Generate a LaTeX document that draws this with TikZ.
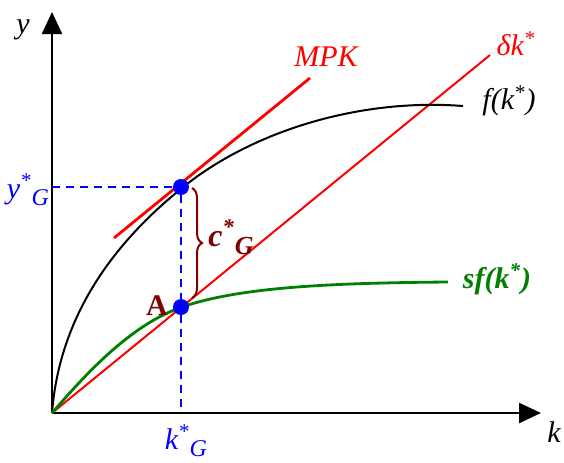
\documentclass[tikz,border=0pt]{standalone}
\usepackage{fontspec}
\setmainfont{Liberation Serif}
\usetikzlibrary{arrows.meta,decorations.pathreplacing}
\definecolor{darkred}{RGB}{128,0,0}
\definecolor{grn}{RGB}{0,128,0}
\newcommand{\stsub}[3][11]{#2\textsuperscript{*}\raisebox{-0.55ex}{\fontsize{#1}{13}\selectfont #3}}

\begin{document}
\begin{tikzpicture}[x=0.5pt,y=-0.5pt,
lbl/.style={font=\fontsize{13}{15}\selectfont\itshape,inner sep=0pt},
big/.style={font=\fontsize{15}{17}\selectfont\itshape},
dot/.style={circle,fill=blue,inner sep=0pt,minimum size=8pt},
axis/.style={line width=1.2pt,-{Triangle[length=11pt,width=10pt]}},
guide/.style={blue,line width=1pt,dash pattern=on 4pt off 3pt}]
\useasboundingbox (0,0) rectangle (564,462);
% axes
\coordinate (O) at (52,413);
\coordinate (ytop) at (52,12);
\coordinate (xend) at (541,413);
\draw[axis] (O) -- (ytop);
\draw[axis] (O) -- (xend);
\node[lbl,big] (ylab) at (23,30) {y};
\node[lbl,big] (klab) at (554,432) {k};
% depreciation line
\coordinate (dend) at (490,55);
\draw[red,line width=1pt] (O) -- (dend);
% production function
\coordinate (fend) at (463,106);
\draw[line width=1pt] (O) .. controls (60,310) and (120,238) .. (182,188)
  .. controls (252,131) and (360,98) .. (fend);
% saving curve
\coordinate (sfend) at (448,282);
\draw[grn,line width=1.4pt] (O) .. controls (85,375) and (130,325) .. (182,307)
  .. controls (240,287) and (330,283) .. (sfend);
% golden rule tangent
\coordinate (tan1) at (114,238);
\coordinate (tan2) at (310,78);
\draw[red,line width=1.4pt] (tan1) -- (tan2);
% points and guides
\node[dot] (B) at (181,187) {};
\node[dot] (A) at (181,307) {};
\coordinate (yG) at (52,187);
\coordinate (kG) at (181,413);
\draw[guide] (yG) -- (B.west);
\draw[guide] (B.south) -- (A.north);
\draw[guide] (A.south) -- (kG);
\draw[darkred,line width=1pt,decorate,decoration={brace,amplitude=5pt}] (192,188) -- (192,298);
% labels
\node[lbl,big,red] (mpk) at (326,57) {MPK};
\node[lbl,big,red] (dlab) at (516,44) {δk\textsuperscript{*}};
\node[lbl,big] (flab) at (509,101) {f(k\textsuperscript{*})};
\node[lbl,grn,font=\fontsize{15}{17}\selectfont\bfseries\itshape] (sflab) at (497,279) {sf(k\textsuperscript{*})};
\node[lbl,big,blue] (ylabG) at (28,190) {\stsub[12]{y}{G}};
\node[lbl,big,blue] (klabG) at (186,441) {\stsub[12]{k}{G}};
\node[lbl,darkred,font=\fontsize{16}{18}\selectfont\bfseries\itshape] (clab) at (231,237) {\stsub[13]{c}{G}};
\node[darkred,font=\fontsize{15}{17}\selectfont\bfseries,inner sep=0pt] (alab) at (157,306) {A};
\end{tikzpicture}
\end{document}
